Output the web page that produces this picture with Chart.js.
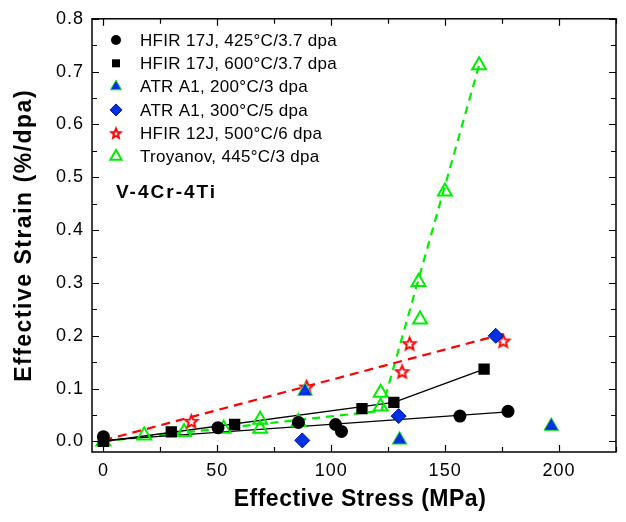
<!DOCTYPE html>
<html><head><meta charset="utf-8">
<script src="https://cdn.jsdelivr.net/npm/chart.js@4.4.1/dist/chart.umd.min.js"></script>
<style>html,body{margin:0;padding:0;background:#fff}</style>
</head><body>
<canvas id="c" width="626" height="522"></canvas>
<script>
// ---- data ----
const hfir425X = [0, 50.3, 85.6, 101.9, 104.5, 156.5, 177.6];
const hfir425Y = [0.009, 0.026, 0.036, 0.032, 0.019, 0.048, 0.057];
const hfir600X = [0, 29.8, 57.6, 113.5, 127.5, 167.1];
const hfir600Y = [0.0, 0.018, 0.032, 0.062, 0.074, 0.137];
const atr200X = [88.5, 130, 196.6];
const atr200Y = [0.095, 0.003, 0.029];
const atr300X = [87.3, 129.6, 172.2];
const atr300Y = [0.002, 0.048, 0.200];
const hfir12X = [38.6, 89.2, 131.1, 134.4, 175.5];
const hfir12Y = [0.038, 0.103, 0.132, 0.185, 0.190];
const troyX = [0, 17.9, 35.4, 52.8, 68.8, 68.8, 85.6, 121.7, 121.7, 139.0, 138.3, 149.9, 164.9];
const troyY = [0.0, 0.011, 0.018, 0.024, 0.041, 0.024, 0.037, 0.092, 0.066, 0.231, 0.302, 0.473, 0.712];

const fit425X = [0, 177.6];        const fit425Y = [0.002, 0.056];
const fit600X = [0, 127.5, 167.1]; const fit600Y = [0.0, 0.074, 0.137];
const fit12X = [0, 177];           const fit12Y = [0.002, 0.205];
const fitTroyX = [0, 122, 164.9];  const fitTroyY = [0.0, 0.058, 0.712];

const seriesLabels = [
  'HFIR 17J, 425°C/3.7 dpa',
  'HFIR 17J, 600°C/3.7 dpa',
  'ATR A1, 200°C/3 dpa',
  'ATR A1, 300°C/5 dpa',
  'HFIR 12J, 500°C/6 dpa',
  'Troyanov, 445°C/3 dpa'
];
const xTickValues = [0, 50, 100, 150, 200];
const yTickValues = [0, 0.1, 0.2, 0.3, 0.4, 0.5, 0.6, 0.7, 0.8];
const xMinorStep = 25, yMinorStep = 0.05;
const annotationText = 'V-4Cr-4Ti';
const xTitle = 'Effective Stress (MPa)';
const yTitle = 'Effective Strain (%/dpa)';

// ---- styles ----
const FONT = "'Liberation Sans', Arial, sans-serif";
const GREEN = '#00ee00', RED = '#ff0000', BLUE = '#0030e0';

function makeStar(size, lw) {
  const c = document.createElement('canvas');
  c.width = size; c.height = size;
  const g = c.getContext('2d');
  const cx = size / 2, cy = size / 2 + 0.5, R = size / 2 - lw, r = R * 0.45;
  g.beginPath();
  for (let i = 0; i < 10; i++) {
    const a = -Math.PI / 2 + i * Math.PI / 5;
    const rr = i % 2 === 0 ? R : r;
    g.lineTo(cx + rr * Math.cos(a), cy + rr * Math.sin(a));
  }
  g.closePath();
  g.fillStyle = '#fff'; g.fill();
  g.lineWidth = lw; g.strokeStyle = RED; g.lineJoin = 'miter'; g.stroke();
  return c;
}
const starImg = makeStar(17, 2);
const starImgSmall = makeStar(14, 2);

const pts = (xs, ys) => xs.map((x, i) => ({x, y: ys[i]}));

const markerDefs = [
  {pointStyle: 'circle', pointRadius: 6.5, backgroundColor: '#000', borderColor: '#000', borderWidth: 0},
  {pointStyle: 'rect', pointRadius: 8, backgroundColor: '#000', borderColor: '#000', borderWidth: 0},
  {pointStyle: 'triangle', pointRadius: 8.5, backgroundColor: BLUE, borderColor: '#22ee22', borderWidth: 1},
  {pointStyle: 'rectRot', pointRadius: 7.5, backgroundColor: BLUE, borderColor: '#0010a0', borderWidth: 1},
  {pointStyle: starImg, pointRadius: 8, backgroundColor: '#fff', borderColor: RED, borderWidth: 2},
  {pointStyle: 'triangle', pointRadius: 8, backgroundColor: 'rgba(255,255,255,0)', borderColor: GREEN, borderWidth: 2}
];
const markerData = [
  pts(hfir425X, hfir425Y), pts(hfir600X, hfir600Y), pts(atr200X, atr200Y),
  pts(atr300X, atr300Y), pts(hfir12X, hfir12Y), pts(troyX, troyY)
];

const datasets = markerData.map((d, i) => Object.assign({
  label: seriesLabels[i], data: d, showLine: false, order: i === 5 ? 1 : 0,
  pointHoverRadius: markerDefs[i].pointRadius
}, markerDefs[i]));

const lineDefs = [
  {data: pts(fit425X, fit425Y), borderColor: '#000', borderWidth: 1.4, borderDash: []},
  {data: pts(fit600X, fit600Y), borderColor: '#000', borderWidth: 1.4, borderDash: []},
  {data: pts(fit12X, fit12Y), borderColor: RED, borderWidth: 2.2, borderDash: [9, 6]},
  {data: pts(fitTroyX, fitTroyY), borderColor: GREEN, borderWidth: 2.2, borderDash: [8, 6]}
];
lineDefs.forEach(l => datasets.push(Object.assign({
  label: '', showLine: true, pointRadius: 0, pointHoverRadius: 0, order: 5, fill: false
}, l)));

// ---- plugins ----
const spacingPlugin = {
  id: 'spacing',
  beforeDraw(chart) { chart.ctx.letterSpacing = '1px'; }
};

const framePlugin = {
  id: 'frame',
  afterDraw(chart) {
    const {ctx, chartArea: a, scales: {x, y}} = chart;
    ctx.save();
    ctx.letterSpacing = '0px';
    ctx.strokeStyle = '#000'; ctx.lineWidth = 1.5;
    ctx.strokeRect(a.left, a.top, a.right - a.left, a.bottom - a.top);
    ctx.lineWidth = 1.2;
    ctx.beginPath();
    for (let v = 0; v <= 225 + 1e-9; v += xMinorStep) {
      const px = Math.round(x.getPixelForValue(v)) + 0.5;
      const len = (v % 50 === 0) ? 7 : 5;
      ctx.moveTo(px, a.bottom); ctx.lineTo(px, a.bottom - len);
      ctx.moveTo(px, a.top); ctx.lineTo(px, a.top + len);
    }
    for (let k = 0; k <= 16; k++) {
      const v = k * yMinorStep;
      const py = Math.round(y.getPixelForValue(v)) + 0.5;
      const len = (k % 2 === 0) ? 7 : 5;
      ctx.moveTo(a.left, py); ctx.lineTo(a.left + len, py);
      ctx.moveTo(a.right, py); ctx.lineTo(a.right - len, py);
    }
    ctx.stroke();
    ctx.fillStyle = '#000';
    // axis titles
    ctx.font = 'bold 23px ' + FONT;
    ctx.letterSpacing = '0.5px';
    ctx.textAlign = 'center';
    ctx.textBaseline = 'middle';
    ctx.fillText(xTitle, 360, 500);
    ctx.save();
    ctx.translate(25, (a.top + a.bottom) / 2);
    ctx.rotate(-Math.PI / 2);
    ctx.letterSpacing = '1.5px';
    ctx.fillText(yTitle, 0, 0);
    ctx.restore();
    // annotation
    ctx.font = 'bold 19px ' + FONT;
    ctx.letterSpacing = '2px';
    ctx.textBaseline = 'alphabetic';
    ctx.textAlign = 'left';
    ctx.fillText(annotationText, 116, 198);
    // legend
    ctx.font = '17px ' + FONT;
    ctx.letterSpacing = '0.3px';
    const mx = 116, tx = 140, y0 = 40, dy = 23.3;
    seriesLabels.forEach((lab, i) => {
      const cy = y0 + i * dy;
      drawLegendMarker(ctx, i, mx, cy);
      ctx.fillStyle = '#000';
      ctx.textBaseline = 'middle';
      ctx.fillText(lab, tx, cy + 1);
    });
    ctx.restore();
  }
};

function drawLegendMarker(ctx, i, x, y) {
  ctx.save();
  ctx.beginPath();
  if (i === 0) {
    ctx.arc(x, y, 5, 0, Math.PI * 2); ctx.fillStyle = '#000'; ctx.fill();
  } else if (i === 1) {
    ctx.fillStyle = '#000'; ctx.fillRect(x - 4, y - 4, 8, 8);
  } else if (i === 2 || i === 5) {
    const r = 6.5;
    ctx.moveTo(x, y - r);
    ctx.lineTo(x + r * 0.866, y + r * 0.5);
    ctx.lineTo(x - r * 0.866, y + r * 0.5);
    ctx.closePath();
    if (i === 2) {
      ctx.fillStyle = BLUE; ctx.fill();
      ctx.lineWidth = 1; ctx.strokeStyle = '#22ee22'; ctx.stroke();
    } else {
      ctx.lineWidth = 2; ctx.strokeStyle = GREEN; ctx.stroke();
    }
  } else if (i === 3) {
    const r = 6;
    ctx.moveTo(x, y - r); ctx.lineTo(x + r, y); ctx.lineTo(x, y + r); ctx.lineTo(x - r, y);
    ctx.closePath(); ctx.fillStyle = BLUE; ctx.fill();
    ctx.lineWidth = 1; ctx.strokeStyle = '#0010a0'; ctx.stroke();
  } else if (i === 4) {
    ctx.drawImage(starImgSmall, x - 7, y - 7);
  }
  ctx.restore();
}

const ctx = document.getElementById('c').getContext('2d');
new Chart(ctx, {
  type: 'scatter',
  data: {datasets},
  options: {
    responsive: false,
    animation: false,
    events: [],
    layout: {padding: {top: 17, right: 6, left: 0, bottom: 0}},
    plugins: {legend: {display: false}, tooltip: {enabled: false}, title: {display: false}},
    scales: {
      x: {
        type: 'linear', min: -5, max: 225,
        afterBuildTicks: s => { s.ticks = xTickValues.map(v => ({value: v})); },
        afterFit: s => { s.height = 70; },
        grid: {display: false, drawTicks: false},
        border: {display: false},
        ticks: {color: '#000', font: {family: FONT, size: 18}, padding: 8, maxRotation: 0,
                callback: v => String(v)}
      },
      y: {
        type: 'linear', min: -0.02, max: 0.8,
        afterBuildTicks: s => { s.ticks = yTickValues.map(v => ({value: v})); },
        afterFit: s => { s.width = 92; },
        grid: {display: false, drawTicks: false},
        border: {display: false},
        ticks: {color: '#000', font: {family: FONT, size: 18}, padding: 8,
                callback: v => Number(v).toFixed(1)}
      }
    }
  },
  plugins: [spacingPlugin, framePlugin]
});
</script>
</body></html>
